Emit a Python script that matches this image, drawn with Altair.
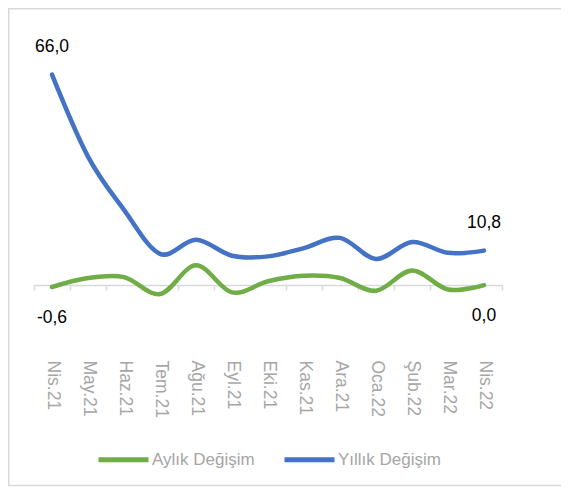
import altair as alt
import pandas as pd

months = ["Nis.21", "May.21", "Haz.21", "Tem.21", "Ağu.21", "Eyl.21", "Eki.21",
          "Kas.21", "Ara.21", "Oca.22", "Şub.22", "Mar.22", "Nis.22"]
aylik = [-0.6, 2.2, 2.5, -2.8, 6.2, -2.3, 1.2, 2.9, 2.2, -1.8, 4.6, -1.4, 0.0]
yillik = [66.0, 40.3, 23.6, 9.8, 14.2, 9.2, 9.0, 11.6, 14.8, 8.2, 13.5, 10.1, 10.8]
series = ["Aylık Değişim", "Yıllık Değişim"]
colors = ["#70AD47", "#4472C4"]

rows = []
for name, vals in zip(series, [aylik, yillik]):
    for i, (m, v) in enumerate(zip(months, vals)):
        rows.append({
            "ay": m, "seri": name, "deger": v,
            "etiket": f"{v:.1f}".replace(".", ","),
            "uc": i == 0 or i == len(months) - 1,
        })
df = pd.DataFrame(rows)

FONT = "Liberation Sans"

x_enc = alt.X("ay:N", sort=months,
              scale=alt.Scale(type="band", paddingInner=0, paddingOuter=0),
              axis=alt.Axis(title=None, labelAngle=90, labelFontSize=17.5,
                            labelColor="#A6A6A6", labelFont=FONT,
                            domainColor="#D9D9D9", domainWidth=1.5,
                            tickColor="#D9D9D9", tickWidth=1.5, tickSize=5,
                            tickBand="extent", labelPadding=70, offset=-16,
                            labelBaseline="middle", labelAlign="left"))
y_enc = alt.Y("deger:Q", scale=alt.Scale(domain=[-5, 80], nice=False, zero=False),
              axis=None)

base = alt.Chart(df)

lines = base.mark_line(interpolate="cardinal", strokeWidth=4.5, strokeCap="round",
                       strokeJoin="round").encode(
    x=x_enc, y=y_enc,
    color=alt.Color("seri:N", scale=alt.Scale(domain=series, range=colors),
                    legend=alt.Legend(title=None, orient="none", direction="horizontal",
                                      legendX=62, legendY=402,
                                      symbolType="stroke", symbolSize=2500,
                                      symbolStrokeWidth=5, labelFontSize=17,
                                      labelFont=FONT, labelColor="#A6A6A6",
                                      labelOffset=1, columnPadding=19)),
    detail="seri:N",
)

lab_y = base.transform_filter(
    (alt.datum.uc == True) & (alt.datum.seri == "Yıllık Değişim")
).mark_text(fontSize=17.5, font=FONT, color="#000000", dy=-28, baseline="middle").encode(
    x=alt.X("ay:N", sort=months), y=alt.Y("deger:Q"), text="etiket:N")

lab_a = base.transform_filter(
    (alt.datum.uc == True) & (alt.datum.seri == "Aylık Değişim")
).mark_text(fontSize=17.5, font=FONT, color="#000000", dy=31, baseline="middle").encode(
    x=alt.X("ay:N", sort=months), y=alt.Y("deger:Q"), text="etiket:N")

border = alt.Chart(pd.DataFrame({"k": [0]})).mark_rect(
    fill=None, stroke="#D9D9D9", strokeWidth=1.5, clip=False).encode(
    x=alt.value(-25.2), x2=alt.value(600), y=alt.value(-21.2), y2=alt.value(455.5))

chart = alt.layer(border, lines, lab_y, lab_a).properties(
    width=468, height=271,
    autosize=alt.AutoSizeParams(type="none"),
    padding={"left": 26, "top": 22, "right": 59, "bottom": 186},
).configure(background="white").configure_view(stroke=None)

chart.save("out.html", embed_options={"renderer": "svg", "actions": False})
